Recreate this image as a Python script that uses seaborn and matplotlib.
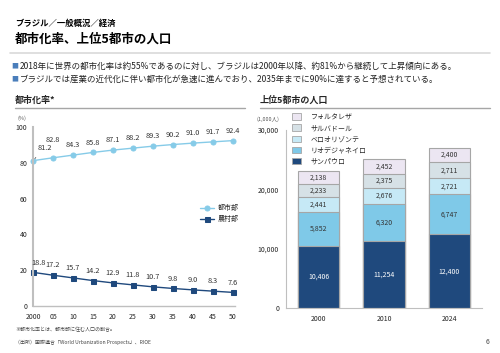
import numpy as np
import pandas as pd
import matplotlib
matplotlib.use("Agg")
import matplotlib.pyplot as plt
import seaborn as sns
from matplotlib.patches import Patch
from matplotlib.lines import Line2D

sns.set_theme(style="white")
plt.rcParams['font.family'] = ['Noto Sans CJK JP', 'DejaVu Sans']
plt.rcParams['axes.unicode_minus'] = False

# Data
years = [2000, 2005, 2010, 2015, 2020, 2025, 2030, 2035, 2040, 2045, 2050]
year_labels = ["2000", "05", "10", "15", "20", "25", "30", "35", "40", "45", "50"]
urban = [81.2, 82.8, 84.3, 85.8, 87.1, 88.2, 89.3, 90.2, 91.0, 91.7, 92.4]
rural = [18.8, 17.2, 15.7, 14.2, 12.9, 11.8, 10.7, 9.8, 9.0, 8.3, 7.6]

bar_years = ["2000", "2010", "2024"]
cities = ["サンパウロ", "リオデジャネイロ", "ベロオリゾンテ", "サルバドール", "フォルタレザ"]
sao_paulo = [10406, 11254, 12400]
rio = [5852, 6320, 6747]
belo = [2441, 2676, 2721]
salvador = [2233, 2375, 2711]
fortaleza = [2138, 2452, 2400]

city_colors = ["#1f497d", "#7fc9e8", "#c6e9f6", "#d6e1e6", "#ece6f2"]
urban_color = "#86cbe8"
rural_color = "#1f497d"

W, H = 500, 353
fig = plt.figure(figsize=(5, 3.53), dpi=100)

def fx(x):
    return x / W

def fy(y):
    return 1 - y / H

# Header texts
fig.text(fx(15), fy(23), "ブラジル／一般概況／経済", fontsize=6, fontweight="bold",
         va="center", ha="left", color="#000000")
fig.text(fx(15), fy(39), "都市化率、上位5都市の人口", fontsize=9, fontweight="bold",
         va="center", ha="left", color="#000000")
fig.add_artist(Line2D([fx(10), fx(490)], [fy(53), fy(53)], color="#d9d9d9", lw=1.2))

bullets = [
    "2018年に世界の都市化率は約55%であるのに対し、ブラジルは2000年以降、約81%から継続して上昇傾向にある。",
    "ブラジルでは産業の近代化に伴い都市化が急速に進んでおり、2035年までに90%に達すると予想されている。",
]
for i, b in enumerate(bullets):
    yy = 66 + i * 13
    fig.text(fx(11), fy(yy), "■", fontsize=5, color="#4a7ebb", va="center", ha="left")
    fig.text(fx(20), fy(yy), b, fontsize=6.1, va="center", ha="left", color="#222222")

# Section headers
fig.text(fx(15), fy(100), "都市化率*", fontsize=6.5, fontweight="bold", va="center", ha="left")
fig.add_artist(Line2D([fx(15), fx(245)], [fy(108), fy(108)], color="#a6a6a6", lw=1))
fig.text(fx(260), fy(100), "上位5都市の人口", fontsize=6.5, fontweight="bold", va="center", ha="left")
fig.add_artist(Line2D([fx(260), fx(490)], [fy(108), fy(108)], color="#a6a6a6", lw=1))

# ---- Left chart: urbanization rate ----
axl = fig.add_axes([fx(33), fy(306), fx(235 - 33), (306 - 127) / H])
df_line = pd.DataFrame({"year": years * 2,
                        "value": urban + rural,
                        "kind": ["都市部"] * len(years) + ["農村部"] * len(years)})
sns.lineplot(data=df_line[df_line.kind == "都市部"], x="year", y="value", ax=axl,
             color=urban_color, marker="o", markersize=3.6, markeredgecolor=urban_color,
             lw=1, label="都市部")
sns.lineplot(data=df_line[df_line.kind == "農村部"], x="year", y="value", ax=axl,
             color=rural_color, marker="s", markersize=3.6, markeredgecolor=rural_color,
             lw=1, label="農村部")
axl.set_xlim(2000, 2050.5)
axl.set_ylim(0, 100)
axl.set_xticks(years)
axl.set_xticklabels(year_labels)
axl.set_yticks([0, 20, 40, 60, 80, 100])
axl.set_xlabel("")
axl.set_ylabel("")
axl.tick_params(axis="both", labelsize=5, length=2, width=0.6, color="#a6a6a6", pad=2)
axl.tick_params(axis="x", pad=3)
for s in ["top", "right"]:
    axl.spines[s].set_visible(False)
axl.spines["left"].set_color("#bfbfbf")
axl.spines["left"].set_linewidth(1.5)
axl.spines["bottom"].set_color("#bfbfbf")
axl.spines["bottom"].set_linewidth(1)
for line in axl.lines:
    line.set_clip_on(False)

for i, (yr, v) in enumerate(zip(years, urban)):
    if i == 0:
        axl.annotate(f"{v:.1f}", xy=(yr, v), xytext=(3, 9), textcoords="offset points",
                     fontsize=5.3, ha="left", va="center", color="#333333",
                     arrowprops=dict(arrowstyle="-", color="#333333", lw=0.5))
    else:
        off = 13 if i == 1 else 7
        axl.annotate(f"{v:.1f}", xy=(yr, v), xytext=(0, off), textcoords="offset points",
                     fontsize=5.3, ha="center", va="center", color="#333333")
for i, (yr, v) in enumerate(zip(years, rural)):
    dx = 4 if i == 0 else 0
    axl.annotate(f"{v:.1f}", xy=(yr, v), xytext=(dx, 7), textcoords="offset points",
                 fontsize=5.3, ha="center", va="center", color="#333333")

axl.legend(loc="upper left", bbox_to_anchor=(fx(200), fy(204)), bbox_transform=fig.transFigure,
           frameon=False, fontsize=5, handlelength=2, handletextpad=0.6, labelspacing=0.5,
           borderaxespad=0, borderpad=0)
fig.text(fx(22), fy(118), "(%)", fontsize=4, ha="center", va="center", color="#555555")

# ---- Right chart: top 5 cities ----
axr = fig.add_axes([fx(286), fy(308), fx(196), (308 - 130) / H])
stack = np.array([sao_paulo, rio, belo, salvador, fortaleza])
cum = np.cumsum(stack, axis=0)
df_bar = pd.DataFrame({"year": bar_years})
for k in range(len(cities) - 1, -1, -1):
    df_bar["cum"] = cum[k]
    sns.barplot(data=df_bar, x="year", y="cum", ax=axr, color=city_colors[k],
                width=0.63, edgecolor="#a6a6a6", linewidth=0.8, saturation=1)
for k in range(len(cities)):
    for j in range(len(bar_years)):
        mid = cum[k][j] - stack[k][j] / 2
        axr.text(j, mid, f"{stack[k][j]:,}", ha="center", va="center", fontsize=5,
                 color="white" if k == 0 else "#333333")
axr.set_xlim(-0.5, 2.5)
axr.set_ylim(0, 30000)
axr.set_yticks([0, 10000, 20000, 30000])
axr.set_yticklabels([f"{t:,}" for t in [0, 10000, 20000, 30000]])
axr.set_xticks([-0.5, 0.5, 1.5, 2.5], minor=True)
axr.set_xlabel("")
axr.set_ylabel("")
axr.tick_params(axis="both", labelsize=5, length=2, width=0.6, color="#a6a6a6", pad=3)
axr.tick_params(axis="x", which="major", length=0, pad=5)
axr.tick_params(axis="x", which="minor", length=2, width=0.6, color="#a6a6a6")
for s in ["top", "right"]:
    axr.spines[s].set_visible(False)
axr.spines["left"].set_color("#bfbfbf")
axr.spines["bottom"].set_color("#bfbfbf")
axr.spines["left"].set_linewidth(0.8)
axr.spines["bottom"].set_linewidth(0.8)

handles = [Patch(facecolor=city_colors[k], edgecolor="#a6a6a6", linewidth=0.6, label=cities[k])
           for k in range(len(cities) - 1, -1, -1)]
axr.legend(handles=handles, loc="upper left", bbox_to_anchor=(fx(292), fy(113)),
           bbox_transform=fig.transFigure, frameon=False, fontsize=5, handlelength=1.3,
           handleheight=1.1, handletextpad=1.4, labelspacing=0.45, borderaxespad=0, borderpad=0)
fig.text(fx(268), fy(119), "(1,000人)", fontsize=4, ha="center", va="center", color="#555555")

# Footnotes
fig.text(fx(15), fy(330), "※都市化率とは、都市部に住む人口の割合。", fontsize=3.6, ha="left", va="center",
         color="#444444")
fig.text(fx(15), fy(342), "（出所）国際連合「World Urbanization Prospects」、RIOE", fontsize=3.6,
         ha="left", va="center", color="#444444")
fig.text(fx(488), fy(342), "6", fontsize=5, ha="center", va="center", color="#444444")

fig.savefig("out.png", dpi=100)
